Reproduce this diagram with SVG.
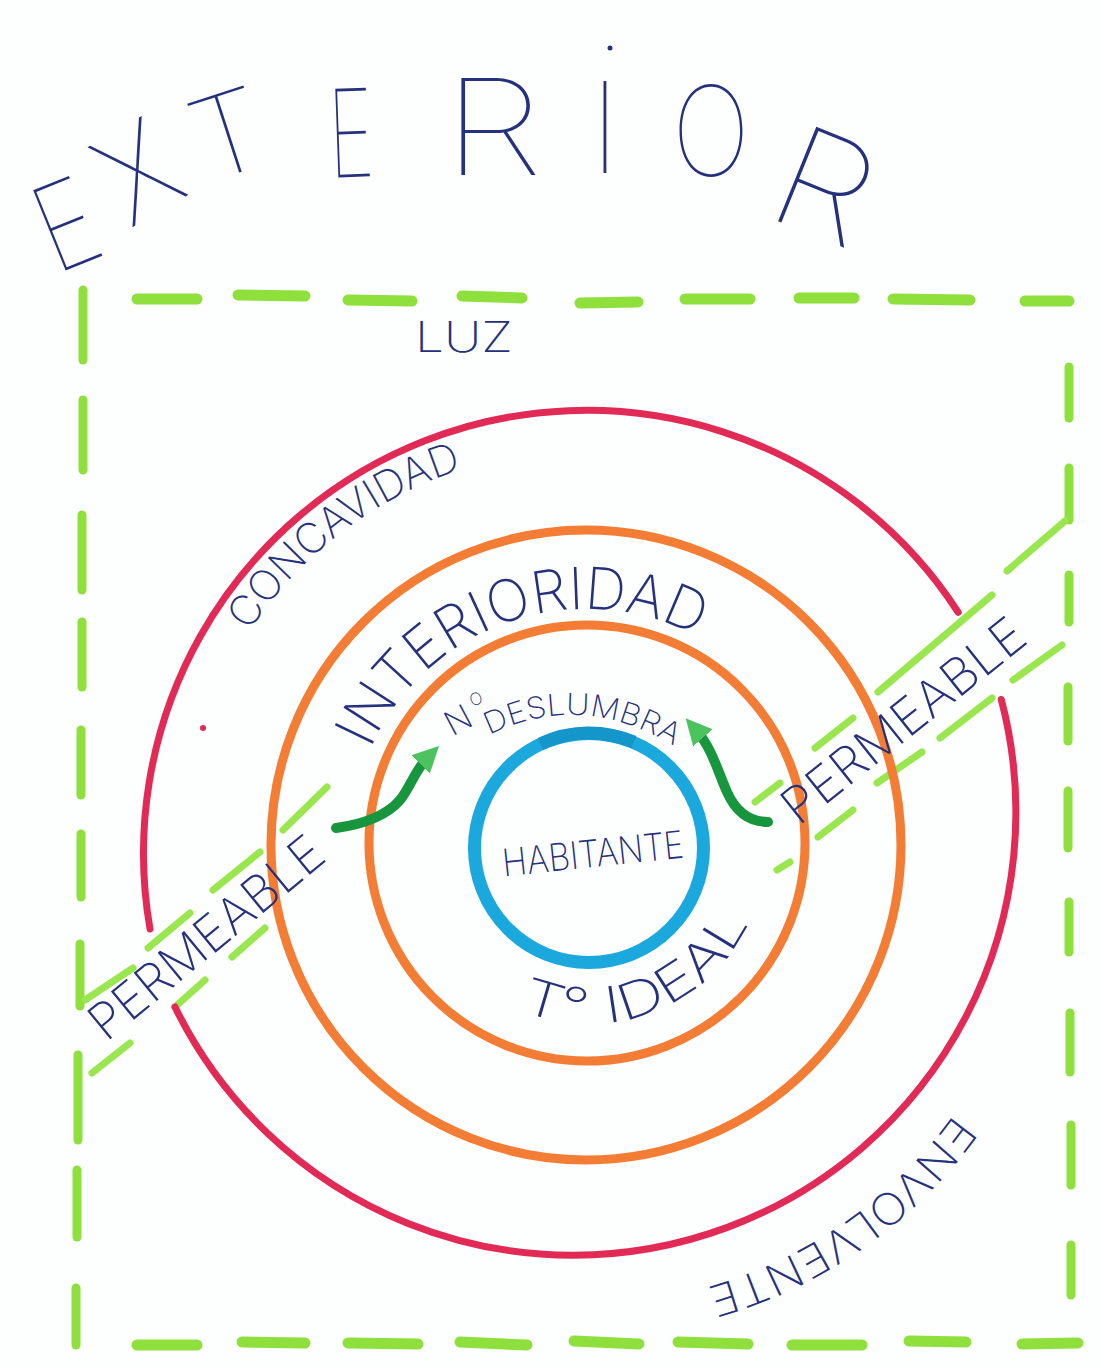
<svg xmlns="http://www.w3.org/2000/svg" width="1101" height="1367" viewBox="0 0 1101 1367">
<defs>
<style>
.bg{fill:#fdfefe}
.dash{stroke:#8fe03c;stroke-width:11;stroke-linecap:round;fill:none}
.vdash{stroke:#8fe03c;stroke-width:9;stroke-linecap:round;fill:none}
.band{stroke:#9ae64e;stroke-width:7;stroke-linecap:round;fill:none}
.red{stroke:#e12b56;stroke-width:7;fill:none;stroke-linecap:round}
.orange{stroke:#f47d36;stroke-width:9;fill:none}
.blue{stroke:#1ba8dc;stroke-width:13;fill:none}
.arrow{stroke:#18963d;stroke-width:10;fill:none;stroke-linecap:round}
.t{fill:#25317c;font-family:"Inter","Open Sans","Liberation Sans",sans-serif;font-weight:250}
.ext{font-family:"Inter","Open Sans","Liberation Sans",sans-serif;font-weight:100;font-size:125px;text-anchor:middle}
</style>
<marker id="ah" viewBox="0 0 10 10" refX="4" refY="5" markerWidth="2.6" markerHeight="2.6" orient="auto" markerUnits="strokeWidth">
<path d="M0,0 L10,5 L0,10 z" fill="#4cc35e"/>
</marker>
<path id="pConc" d="M221.6,681.5 A401,401 0 0 1 550.1,451.5"/>
<path id="pInt" d="M358,783.9 A236,236 0 0 1 721.4,651.7"/>
<path id="pIdeal" d="M514.6,1007.5 A176,176 0 0 0 754.4,908.2"/>
<path id="pEnv" d="M995.6,1042.4 A453,453 0 0 1 585,1304"/>
<path id="pDes" d="M489,735 Q580,690 672,745"/>
</defs>
<rect class="bg" x="0" y="0" width="1101" height="1367"/>

<g id="frame">
<line class="dash" x1="137" y1="299" x2="197" y2="299"/>
<line class="dash" x1="238" y1="295" x2="305" y2="296"/>
<line class="dash" x1="348" y1="300" x2="412" y2="301"/>
<line class="dash" x1="462" y1="296" x2="522" y2="298"/>
<line class="dash" x1="580" y1="303" x2="638" y2="302"/>
<line class="dash" x1="685" y1="299" x2="750" y2="299"/>
<line class="dash" x1="799" y1="298" x2="854" y2="298"/>
<line class="dash" x1="893" y1="299" x2="970" y2="300"/>
<line class="dash" x1="1025" y1="301" x2="1069" y2="301"/>
<line class="dash" x1="137" y1="1345" x2="197" y2="1345"/>
<line class="dash" x1="242" y1="1342" x2="305" y2="1343"/>
<line class="dash" x1="348" y1="1343" x2="418" y2="1344"/>
<line class="dash" x1="460" y1="1342" x2="527" y2="1345"/>
<line class="dash" x1="574" y1="1341" x2="639" y2="1344"/>
<line class="dash" x1="678" y1="1342" x2="748" y2="1344"/>
<line class="dash" x1="792" y1="1345" x2="862" y2="1345"/>
<line class="dash" x1="909" y1="1341" x2="966" y2="1342"/>
<line class="dash" x1="1022" y1="1344" x2="1078" y2="1343"/>
<line class="vdash" x1="83" y1="290" x2="83" y2="360"/>
<line class="vdash" x1="83" y1="400" x2="83" y2="470"/>
<line class="vdash" x1="82" y1="515" x2="82" y2="590"/>
<line class="vdash" x1="82" y1="622" x2="82" y2="687"/>
<line class="vdash" x1="81" y1="730" x2="81" y2="795"/>
<line class="vdash" x1="81" y1="834" x2="81" y2="897"/>
<line class="vdash" x1="80" y1="944" x2="80" y2="1006"/>
<line class="vdash" x1="78" y1="1055" x2="78" y2="1140"/>
<line class="vdash" x1="77" y1="1170" x2="77" y2="1237"/>
<line class="vdash" x1="76" y1="1288" x2="76" y2="1345"/>
<line class="vdash" x1="1069" y1="367" x2="1069" y2="418"/>
<line class="vdash" x1="1069" y1="468" x2="1069" y2="520"/>
<line class="vdash" x1="1069" y1="575" x2="1069" y2="622"/>
<line class="vdash" x1="1068" y1="687" x2="1068" y2="741"/>
<line class="vdash" x1="1068" y1="791" x2="1068" y2="848"/>
<line class="vdash" x1="1069" y1="902" x2="1069" y2="952"/>
<line class="vdash" x1="1070" y1="1013" x2="1070" y2="1072"/>
<line class="vdash" x1="1071" y1="1125" x2="1071" y2="1185"/>
<line class="vdash" x1="1071" y1="1245" x2="1071" y2="1295"/>
</g>

<g id="band-left">
<line class="band" x1="85" y1="1000" x2="133" y2="968"/>
<line class="band" x1="148" y1="948" x2="190" y2="913"/>
<line class="band" x1="213" y1="890" x2="260" y2="852"/>
<line class="band" x1="283" y1="830" x2="327" y2="787"/>
<line class="band" x1="92" y1="1073" x2="130" y2="1043"/>
<line class="band" x1="175" y1="1007" x2="205" y2="980"/>
<line class="band" x1="232" y1="957" x2="265" y2="928"/>
</g>
<g id="band-right">
<line class="band" x1="755" y1="802" x2="780" y2="783"/>
<line class="band" x1="815" y1="748" x2="853" y2="718"/>
<line class="band" x1="878" y1="692" x2="992" y2="595"/>
<line class="band" x1="1007" y1="571" x2="1065" y2="521"/>
<line class="band" x1="777" y1="870" x2="790" y2="862"/>
<line class="band" x1="818" y1="837" x2="853" y2="810"/>
<line class="band" x1="877" y1="783" x2="922" y2="752"/>
<line class="band" x1="940" y1="738" x2="992" y2="698"/>
<line class="band" x1="1013" y1="680" x2="1062" y2="645"/>
</g>

<g id="ring-envolvente">
<path class="red" d="M150,929 A443,443 0 0 1 958.2,612.3"/>
<path class="red" d="M1001.3,699.5 A443,443 0 0 1 175,1007"/>
<circle cx="203" cy="728" r="3" fill="#e12b56"/>
</g>
<g id="ring-interioridad">
<circle class="orange" cx="586" cy="845" r="315"/>
</g>
<g id="ring-inner">
<circle class="orange" cx="587" cy="843" r="218"/>
</g>
<g id="habitante">
<circle class="blue" cx="589" cy="848" r="114.5"/>
<path d="M540.4,743.8 A114.5,114.5 0 0 1 633.9,742.1" stroke="#1596cb" stroke-width="13" fill="none"/>
<text class="t" transform="translate(593,854) rotate(-6)" x="0" y="13" text-anchor="middle" font-size="38" textLength="182" lengthAdjust="spacingAndGlyphs">HABITANTE</text>
</g>

<g id="connectors">
<path class="arrow" d="M336,828 C365,824 388,814 400,800 C410,788 415,770 428,757" marker-end="url(#ah)"/>
<path class="arrow" d="M768,822 C748,822 735,810 727,792 C718,772 712,748 696,730" marker-end="url(#ah)"/>
</g>

<g id="title">
<g class="t ext">
<text transform="translate(66,224) rotate(-22)" y="43" font-size="119" textLength="58" lengthAdjust="spacingAndGlyphs">E</text>
<text transform="translate(138,172) rotate(-30)" y="45" font-size="126" textLength="72" lengthAdjust="spacingAndGlyphs">X</text>
<text transform="translate(228,134) rotate(-18)" y="40" font-size="112" textLength="74" lengthAdjust="spacingAndGlyphs">T</text>
<text transform="translate(351,133) rotate(-2)" y="44" font-size="122" textLength="46" lengthAdjust="spacingAndGlyphs">E</text>
<text transform="translate(493,128)" y="47" font-size="133" textLength="100" lengthAdjust="spacingAndGlyphs">R</text>
<text transform="translate(605,128)" y="45" font-size="126">I</text>
<text transform="translate(711,131)" y="45" font-size="125" textLength="78" lengthAdjust="spacingAndGlyphs">O</text>
<text transform="translate(825,186) rotate(22)" y="50" font-size="140" textLength="96" lengthAdjust="spacingAndGlyphs">R</text>
</g>
<circle cx="610" cy="48" r="2.5" fill="#25317c"/>
</g>

<g id="labels">
<text class="t" x="415" y="352" font-size="42" textLength="98" lengthAdjust="spacingAndGlyphs">LUZ</text>
<text class="t" font-size="42"><textPath href="#pConc" startOffset="57" textLength="273" lengthAdjust="spacingAndGlyphs">CONCAVIDAD</textPath></text>
<text class="t" font-size="58"><textPath href="#pInt" startOffset="37" textLength="387" lengthAdjust="spacingAndGlyphs">INTERIORIDAD</textPath></text>
<text class="t" transform="translate(458,720) rotate(-28)" y="12" text-anchor="middle" font-size="34">N</text>
<text class="t" transform="translate(476,699) rotate(-20)" y="6" text-anchor="middle" font-size="17">O</text>
<text class="t" font-size="30"><textPath href="#pDes" startOffset="0" textLength="194" lengthAdjust="spacingAndGlyphs">DESLUMBRA</textPath></text>
<text class="t" font-size="50"><textPath href="#pIdeal" startOffset="6" textLength="270" lengthAdjust="spacingAndGlyphs">T° IDEAL</textPath></text>
<text class="t" font-size="44"><textPath href="#pEnv" startOffset="83" textLength="308" lengthAdjust="spacingAndGlyphs">ENVOLVENTE</textPath></text>
<text class="t" transform="translate(206,937) rotate(-39.5)" y="18" text-anchor="middle" font-size="50" textLength="288" lengthAdjust="spacingAndGlyphs">PERMEABLE</text>
<text class="t" transform="translate(903,720) rotate(-38.6)" y="18" text-anchor="middle" font-size="50" textLength="296" lengthAdjust="spacingAndGlyphs">PERMEABLE</text>
</g>
</svg>
